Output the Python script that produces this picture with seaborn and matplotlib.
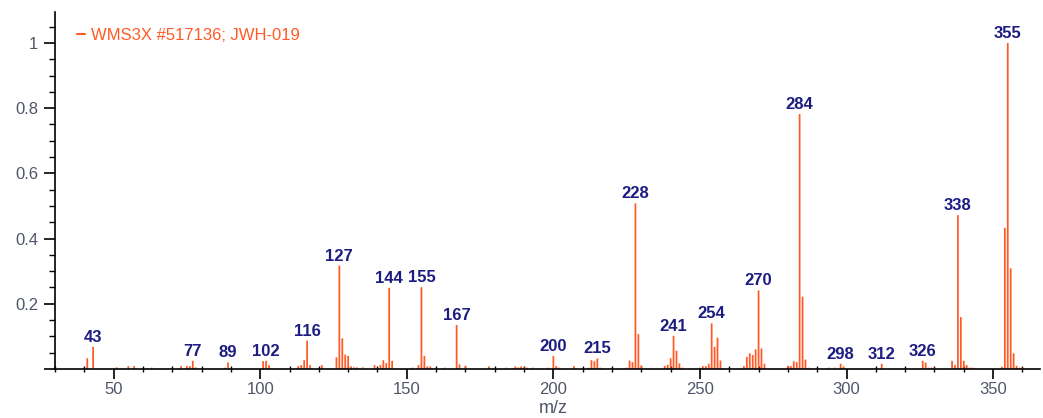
import numpy as np
import pandas as pd
import seaborn as sns
import matplotlib
matplotlib.use("Agg")
import matplotlib.pyplot as plt
from matplotlib.ticker import MultipleLocator, FuncFormatter
from matplotlib.lines import Line2D

# Mass spectrum of JWH-019 (relative intensities, base peak = 1)
mz = [41, 43, 51, 55, 57, 63, 73, 75, 76, 77, 78, 88, 89,
      101, 102, 103, 113, 114, 115, 116, 117, 121,
      126, 127, 128, 129, 130, 131, 132, 133, 135, 139, 141, 142, 143, 144, 145,
      152, 154, 155, 156, 157, 158, 163, 167, 168, 170,
      178, 184, 187, 188, 189, 190, 191, 193, 198, 200, 201, 202, 207,
      212, 213, 214, 215, 216, 225, 226, 227, 228, 229, 230,
      238, 239, 240, 241, 242, 243, 244, 250, 251, 252, 253, 254, 255, 256, 257,
      265, 266, 267, 268, 269, 270, 271, 272,
      280, 281, 282, 283, 284, 285, 286, 287, 294, 296, 298, 299, 312,
      326, 327, 328, 329, 330, 336, 337, 338, 339, 340, 341, 342, 343,
      353, 354, 355, 356, 357, 358, 359, 360]
intensity = [0.033, 0.068, 0.005, 0.009, 0.009, 0.004, 0.009, 0.009, 0.009, 0.025, 0.005, 0.004, 0.020,
             0.024, 0.025, 0.012, 0.009, 0.012, 0.027, 0.087, 0.012, 0.012,
             0.036, 0.317, 0.094, 0.044, 0.040, 0.008, 0.005, 0.005, 0.005, 0.012, 0.012, 0.027, 0.018, 0.249, 0.025,
             0.004, 0.012, 0.251, 0.040, 0.008, 0.008, 0.004, 0.135, 0.014, 0.010,
             0.008, 0.004, 0.008, 0.005, 0.008, 0.005, 0.004, 0.004, 0.004, 0.040, 0.009, 0.004, 0.009,
             0.004, 0.027, 0.024, 0.032, 0.004, 0.004, 0.026, 0.021, 0.508, 0.107, 0.011,
             0.009, 0.013, 0.033, 0.102, 0.056, 0.017, 0.004, 0.004, 0.009, 0.009, 0.016, 0.140, 0.068, 0.096, 0.026,
             0.009, 0.037, 0.048, 0.043, 0.060, 0.241, 0.063, 0.016,
             0.010, 0.009, 0.024, 0.021, 0.782, 0.222, 0.029, 0.004, 0.004, 0.004, 0.016, 0.008, 0.016,
             0.025, 0.020, 0.004, 0.004, 0.004, 0.025, 0.012, 0.472, 0.159, 0.025, 0.012, 0.004, 0.004,
             0.007, 0.433, 1.000, 0.309, 0.048, 0.010, 0.004, 0.004]

# Peaks annotated with their m/z
labeled_mz = [43, 77, 89, 102, 116, 127, 144, 155, 167, 200, 215,
              228, 241, 254, 270, 284, 298, 312, 326, 338, 355]

series_name = "WMS3X #517136; JWH-019"

BAR = "#ff5a26"
LABEL = "#1c1c82"
TICKTXT = "#50566a"

df = pd.DataFrame({"mz": mz, "intensity": intensity})

sns.set_style("ticks")
plt.rcParams["font.family"] = ["Liberation Sans", "DejaVu Sans"]

W, H = 1043, 418
fig = plt.figure(figsize=(W / 100, H / 100), dpi=100)
ax = fig.add_axes([55 / W, 1 - 369 / H, 985 / W, 357 / H])

sns.histplot(data=df, x="mz", weights="intensity", discrete=True, shrink=0.6,
             color=BAR, alpha=1, linewidth=0, ax=ax)
for p in ax.patches:
    p.set_snap(False)

lookup = dict(zip(mz, intensity))
for m in labeled_mz:
    ax.annotate(str(m), xy=(m, lookup[m]), xytext=(0, 1.5), textcoords="offset points",
                ha="center", va="bottom", fontsize=12, fontweight="bold", color=LABEL)

ax.set_xlim(30, 366)
ax.set_ylim(0, 1.095)

ax.xaxis.set_major_locator(MultipleLocator(50))
ax.xaxis.set_minor_locator(MultipleLocator(10))
ax.yaxis.set_major_locator(MultipleLocator(0.2))
ax.yaxis.set_minor_locator(MultipleLocator(0.05))
ax.yaxis.set_major_formatter(FuncFormatter(lambda v, p: "" if abs(v) < 1e-9 else f"{v:g}"))

ax.tick_params(axis="x", which="major", direction="out", length=7.5, width=1.2,
               colors="black", labelcolor=TICKTXT, labelsize=12, pad=1.5)
ax.tick_params(axis="x", which="minor", direction="inout", length=4.5, width=1.0, colors="black")
ax.tick_params(axis="y", which="major", direction="out", length=8, width=1.2,
               colors="black", labelcolor=TICKTXT, labelsize=12, pad=4)
ax.tick_params(axis="y", which="minor", direction="out", length=4, width=1.0, colors="black")

sns.despine(ax=ax)
for s in ("left", "bottom"):
    ax.spines[s].set_color("black")
    ax.spines[s].set_linewidth(1.2)

ax.set_ylabel("")
ax.set_xlabel("m/z", fontsize=13, color=TICKTXT)
ax.xaxis.set_label_coords((553 - 55) / 985, -(400 - 369) / 357)

handle = Line2D([], [], color=BAR, lw=1.5)
ax.legend([handle], [series_name], loc="center left",
          bbox_to_anchor=((77 - 55) / 985, (369 - 35) / 357),
          frameon=False, fontsize=12, labelcolor="linecolor",
          handlelength=0.5, handletextpad=0.35, borderpad=0, borderaxespad=0)

fig.savefig("out.png", dpi=100)
